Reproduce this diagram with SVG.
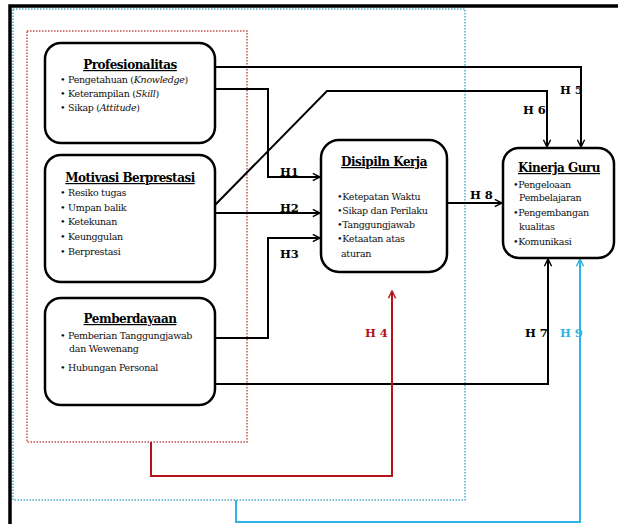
<svg xmlns="http://www.w3.org/2000/svg" width="618" height="524" viewBox="0 0 618 524">
<defs>
<style>
.box{fill:#fff;stroke:#000;stroke-width:2.5}
.t{font-family:"DejaVu Serif","Liberation Serif",serif;font-weight:bold;font-size:12px;text-decoration:underline;text-anchor:middle;letter-spacing:-0.5px}
.b{font-family:"DejaVu Serif","Liberation Serif",serif;font-size:9.5px;fill:#111;letter-spacing:-0.3px}
.lab{font-family:"DejaVu Serif","Liberation Serif",serif;font-weight:bold;font-size:11.5px}
.ln{fill:none;stroke:#000;stroke-width:2}
</style>
<marker id="ak" viewBox="0 0 10 10" refX="9" refY="5" markerWidth="9" markerHeight="9" markerUnits="userSpaceOnUse" orient="auto"><path d="M1,1 L9,5 L1,9" fill="none" stroke="#000" stroke-width="1.6"/></marker>
<marker id="ar" viewBox="0 0 10 10" refX="9" refY="5" markerWidth="9" markerHeight="9" markerUnits="userSpaceOnUse" orient="auto"><path d="M1,1 L9,5 L1,9" fill="none" stroke="#b5121b" stroke-width="1.6"/></marker>
<marker id="ab" viewBox="0 0 10 10" refX="9" refY="5" markerWidth="9" markerHeight="9" markerUnits="userSpaceOnUse" orient="auto"><path d="M1,1 L9,5 L1,9" fill="none" stroke="#2eb4e8" stroke-width="1.6"/></marker>
</defs>
<rect width="618" height="524" fill="#fff"/>
<g id="frame">
<path d="M10,524 V6 H618" fill="none" stroke="#000" stroke-width="3.5"/>
<rect x="13" y="9" width="452" height="491" fill="none" stroke="#4bacc6" stroke-width="1.5" stroke-dasharray="1.5,1.5"/>
<rect x="27" y="31" width="220" height="411" fill="none" stroke="#c0504d" stroke-width="1.5" stroke-dasharray="1.5,1.5"/>
</g>
<g id="connectors">
<polyline class="ln" points="215,67 581,67 581,147" marker-end="url(#ak)"/>
<polyline class="ln" points="215,89 268,89 268,177 320,177" marker-end="url(#ak)"/>
<polyline class="ln" points="215,205 327,91 547,91 547,147" marker-end="url(#ak)"/>
<polyline class="ln" points="215,213 320,213" marker-end="url(#ak)"/>
<polyline class="ln" points="215,338 268,338 268,238 320,238" marker-end="url(#ak)"/>
<polyline class="ln" points="215,384 548,384 548,259" marker-end="url(#ak)"/>
<polyline class="ln" points="447,203 502,203" marker-end="url(#ak)"/>
<polyline points="151,442 151,476 392,476 392,291" fill="none" stroke="#b5121b" stroke-width="2" marker-end="url(#ar)"/>
<polyline points="236,500 236,522 580,522 580,259" fill="none" stroke="#2eb4e8" stroke-width="2" marker-end="url(#ab)"/>
<text class="lab" x="280" y="176">H1</text>
<text class="lab" x="280" y="212">H2</text>
<text class="lab" x="280" y="258">H3</text>
<text class="lab" x="365" y="337" fill="#b5121b">H 4</text>
<text class="lab" x="560" y="94">H 5</text>
<text class="lab" x="523" y="114">H 6</text>
<text class="lab" x="525" y="337">H 7</text>
<text class="lab" x="470" y="199">H 8</text>
<text class="lab" x="560" y="337" fill="#2eb4e8">H 9</text>
</g>
<g id="profesionalitas">
<rect class="box" x="45" y="43" width="170" height="100" rx="16"/>
<text class="t" x="130" y="69">Profesionalitas</text>
<text class="b" x="60" y="83">•  Pengetahuan (<tspan font-style="italic">Knowledge</tspan>)</text>
<text class="b" x="60" y="97">•  Keterampilan (<tspan font-style="italic">Skill</tspan>)</text>
<text class="b" x="60" y="111">•  Sikap (<tspan font-style="italic">Attitude</tspan>)</text>
</g>
<g id="motivasi">
<rect class="box" x="45" y="155" width="170" height="127" rx="16"/>
<text class="t" x="130" y="182">Motivasi Berprestasi</text>
<text class="b" x="60" y="196">•  Resiko tugas</text>
<text class="b" x="60" y="211">•  Umpan balik</text>
<text class="b" x="60" y="225">•  Ketekunan</text>
<text class="b" x="60" y="240">•  Keunggulan</text>
<text class="b" x="60" y="255">•  Berprestasi</text>
</g>
<g id="pemberdayaan">
<rect class="box" x="45" y="298" width="170" height="107" rx="16"/>
<text class="t" x="130" y="323">Pemberdayaan</text>
<text class="b" x="60" y="339">•  Pemberian Tanggungjawab</text>
<text class="b" x="69" y="352">dan Wewenang</text>
<text class="b" x="60" y="371">•  Hubungan Personal</text>
</g>
<g id="disiplin">
<rect class="box" x="321" y="140" width="126" height="132" rx="18"/>
<text class="t" x="384" y="166">Disipiln Kerja</text>
<text class="b" x="337" y="200">•Ketepatan Waktu</text>
<text class="b" x="337" y="214">•Sikap dan Perilaku</text>
<text class="b" x="337" y="228">•Tanggungjawab</text>
<text class="b" x="337" y="242">•Ketaatan atas</text>
<text class="b" x="341" y="257">aturan</text>
</g>
<g id="kinerja">
<rect class="box" x="503" y="148" width="111" height="110" rx="16"/>
<text class="t" x="559" y="172">Kinerja Guru</text>
<text class="b" x="513" y="188">•Pengeloaan</text>
<text class="b" x="519" y="201">Pembelajaran</text>
<text class="b" x="513" y="216">•Pengembangan</text>
<text class="b" x="519" y="230">kualitas</text>
<text class="b" x="513" y="245">•Komunikasi</text>
</g>
</svg>
